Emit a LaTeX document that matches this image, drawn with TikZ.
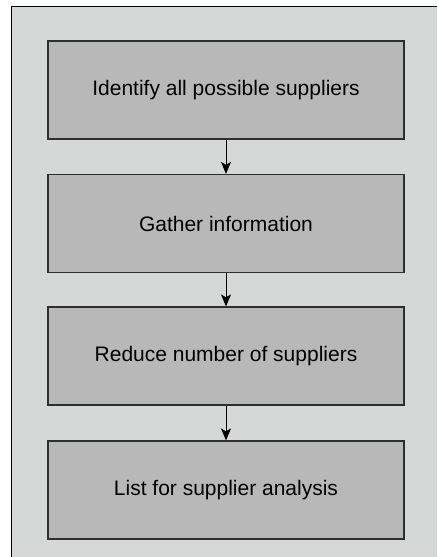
\documentclass[tikz,border=0pt]{standalone}
\usepackage{fontspec}
\setmainfont{Liberation Sans}
\usetikzlibrary{arrows.meta}
\definecolor{panelfill}{HTML}{D6D8D7}
\definecolor{boxfill}{HTML}{B8B8B8}
\definecolor{boxline}{HTML}{2E2E2E}
\begin{document}
\begin{tikzpicture}[x=1pt,y=-1pt,
  stepbox/.style={draw=boxline, line width=1.2pt, fill=boxfill,
    minimum width=356pt, minimum height=98pt, inner sep=0pt,
    font=\fontsize{21}{25}\selectfont},
  flow/.style={draw=black, line width=0.9pt,
    -{Stealth[length=12pt,width=10pt,inset=3pt]}}]
  \useasboundingbox (0,0) rectangle (437,557);
  % background panel, open on the right and at the bottom
  \fill[panelfill] (11.5,6) rectangle (437,557);
  \draw[black, line width=1pt] (11.5,557) -- (11.5,6) -- (437,6);
  % process steps
  \node[stepbox] (s1) at (226,90)  {Identify all possible suppliers};
  \node[stepbox] (s2) at (226,223.5) {Gather information};
  \node[stepbox] (s3) at (226,356) {Reduce number of suppliers};
  \node[stepbox] (s4) at (226,490) {List for supplier analysis};
  % connectors
  \draw[flow] (s1) -- (s2);
  \draw[flow] (s2) -- (s3);
  \draw[flow] (s3) -- (s4);
\end{tikzpicture}
\end{document}
